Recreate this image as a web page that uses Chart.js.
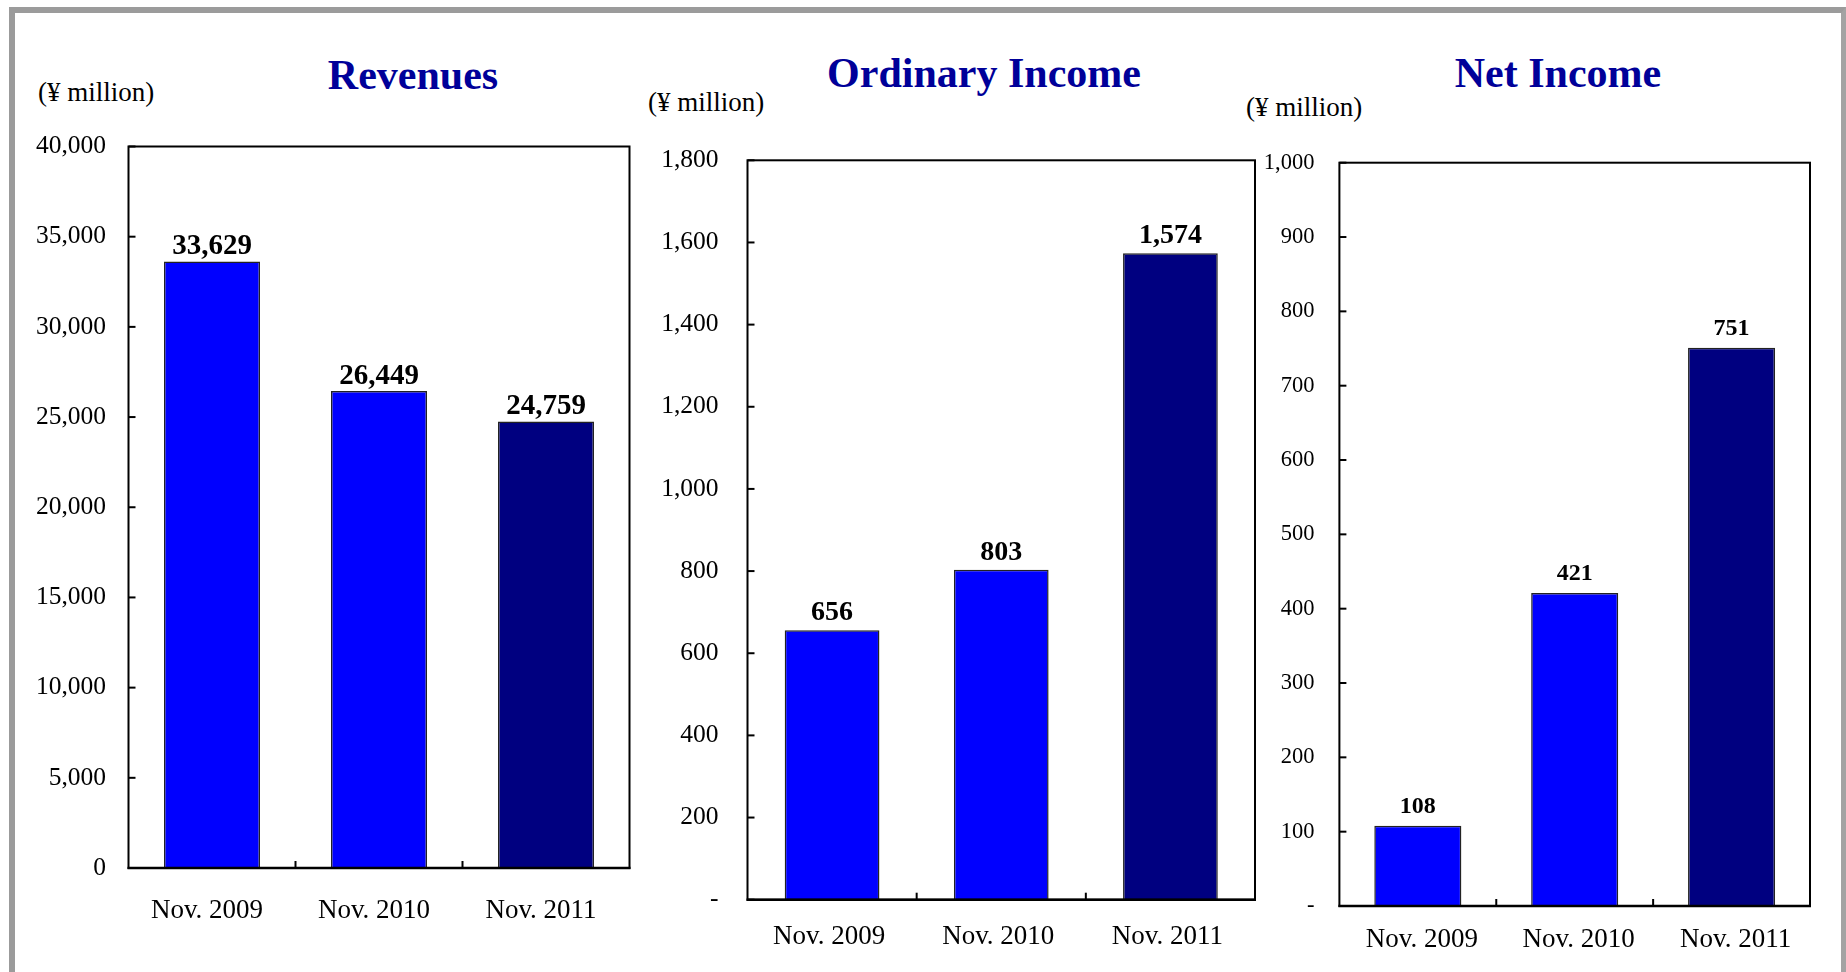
<!DOCTYPE html>
<html>
<head>
<meta charset="utf-8">
<script src="https://cdn.jsdelivr.net/npm/chart.js@4/dist/chart.umd.min.js"></script>
<style>
  html, body { margin: 0; padding: 0; background: #fff; width: 1846px; height: 972px; overflow: hidden; }
  #frame { position: absolute; left: 9px; top: 7px; width: 1826px; height: 1000px;
           border-left: 6px solid #9b9b9b; border-top: 6px solid #9b9b9b; border-right: 5px solid #a3a3a3; }
  canvas { position: absolute; }
  .title { position: absolute; font-family: "Liberation Serif", serif; font-weight: bold; font-size: 42px;
           line-height: 42px; color: #000099; white-space: nowrap; transform: translateX(-50%); }
  .unit { position: absolute; font-family: "Liberation Serif", serif; font-size: 27px; line-height: 27px;
          color: #000; white-space: nowrap; }
</style>
</head>
<body>
<div id="frame"></div>

<div class="title" style="left:413px; top:54px;">Revenues</div>
<div class="title" style="left:984px; top:52px;">Ordinary Income</div>
<div class="title" style="left:1558px; top:52px;">Net Income</div>

<div class="unit" style="left:38px; top:79px;">(¥ million)</div>
<div class="unit" style="left:648px; top:89px;">(¥ million)</div>
<div class="unit" style="left:1246px; top:94px;">(¥ million)</div>

<canvas id="rev" width="625" height="860" style="left:20px; top:100px;"></canvas>
<canvas id="ord" width="630" height="860" style="left:640px; top:100px;"></canvas>
<canvas id="net" width="600" height="860" style="left:1230px; top:100px;"></canvas>

<script>
// ---- data ----
const categories = ['Nov. 2009', 'Nov. 2010', 'Nov. 2011'];
const revenues = [33629, 26449, 24759];
const ordinaryIncome = [656, 803, 1574];
const netIncome = [108, 421, 751];
const barColors = ['#0000FF', '#0000FF', '#000080'];

const revTickLabels = ['0', '5,000', '10,000', '15,000', '20,000', '25,000', '30,000', '35,000', '40,000'];
const ordTickLabels = ['-', '200', '400', '600', '800', '1,000', '1,200', '1,400', '1,600', '1,800'];
const netTickLabels = ['-', '100', '200', '300', '400', '500', '600', '700', '800', '900', '1,000'];

// ---- plugin: plot box, inward ticks, value labels ----
const boxPlugin = {
  id: 'box',
  afterDatasetsDraw(chart, args, opts) {
    const { ctx, chartArea: a } = chart;
    const x = chart.scales.x, y = chart.scales.y;
    ctx.save();
    ctx.strokeStyle = '#000';
    ctx.lineWidth = 2;
    ctx.strokeRect(a.left, a.top, a.right - a.left, a.bottom - a.top);
    ctx.lineWidth = 2.5;
    ctx.beginPath(); ctx.moveTo(a.left - 1, a.bottom); ctx.lineTo(a.right + 1, a.bottom); ctx.stroke();
    ctx.lineWidth = 2;
    y.ticks.forEach((t, i) => {
      const py = y.getPixelForTick(i);
      ctx.beginPath(); ctx.moveTo(a.left, py); ctx.lineTo(a.left + 7, py); ctx.stroke();
    });
    for (let i = 1; i < x.ticks.length; i++) {
      const px = (x.getPixelForTick(i - 1) + x.getPixelForTick(i)) / 2;
      ctx.beginPath(); ctx.moveTo(px, a.bottom); ctx.lineTo(px, a.bottom - 7); ctx.stroke();
    }
    const meta = chart.getDatasetMeta(0);
    const values = chart.data.datasets[0].data;
    ctx.font = 'bold ' + opts.size + 'px "Liberation Serif"';
    ctx.textAlign = 'center';
    ctx.textBaseline = 'alphabetic';
    ctx.fillStyle = '#000';
    meta.data.forEach((bar, i) => {
      ctx.fillText(values[i].toLocaleString('en-US'), bar.x, bar.y - opts.gap);
    });
    ctx.restore();
  }
};

function makeChart(id, values, cfg) {
  const t = cfg.area;
  const chart = new Chart(document.getElementById(id), {
    type: 'bar',
    data: {
      labels: categories,
      datasets: [{
        data: values,
        backgroundColor: barColors,
        borderColor: '#222',
        borderWidth: 1.5,
        borderSkipped: 'bottom',
        categoryPercentage: cfg.catPct,
        barPercentage: 1
      }]
    },
    options: {
      responsive: false,
      animation: false,
      events: [],
      layout: { padding: { left: 0, right: 0, top: 0, bottom: 0 } },
      plugins: {
        legend: { display: false },
        tooltip: { enabled: false },
        title: { display: false },
        box: { size: cfg.labelSize, gap: cfg.gap }
      },
      scales: {
        x: {
          grid: { display: false, drawTicks: false },
          border: { display: false },
          ticks: { color: '#000', padding: cfg.xPad, maxRotation: 0, autoSkip: false,
                   labelOffset: cfg.labelOffset,
                   font: { family: 'Liberation Serif', size: 27 } },
          afterFit(s) { s.height = 70; }
        },
        y: {
          min: 0, max: cfg.max,
          grid: { display: false, drawTicks: false },
          border: { display: false },
          ticks: { stepSize: cfg.step, color: '#000', padding: cfg.yPad, autoSkip: false,
                   font: { family: 'Liberation Serif', size: cfg.tickSize },
                   callback: (v, i) => cfg.tickLabels[i] },
          afterFit(s) { s.width = t.left - 4; }
        }
      }
    },
    plugins: [boxPlugin]
  });
  // place the plot area where the reference has it (canvas-relative target box)
  let pad = { left: 0, right: 0, top: 0, bottom: 0 };
  for (let k = 0; k < 6; k++) {
    const ca = chart.chartArea;
    const dT = t.top - ca.top, dB = ca.bottom - t.bottom, dL = t.left - ca.left, dR = ca.right - t.right;
    if (Math.abs(dT) + Math.abs(dB) + Math.abs(dL) + Math.abs(dR) < 0.05) break;
    pad = { left: pad.left + dL, right: pad.right + dR, top: pad.top + dT, bottom: pad.bottom + dB };
    chart.config.options.layout.padding = pad;
    chart.update('none');
  }
  return chart;
}

// target plot areas, relative to each canvas
makeChart('rev', revenues, {
  max: 40000, step: 5000, tickLabels: revTickLabels, tickSize: 25.5, labelSize: 29, gap: 7,
  catPct: 0.575, xPad: 27, yPad: 22.5, labelOffset: -5,
  area: { left: 108.5, top: 46.5, right: 609.5, bottom: 768 }
});
makeChart('ord', ordinaryIncome, {
  max: 1800, step: 200, tickLabels: ordTickLabels, tickSize: 25.5, labelSize: 28, gap: 10,
  catPct: 0.56, xPad: 21.3, yPad: 29, labelOffset: -3,
  area: { left: 107.5, top: 60.3, right: 615, bottom: 799.7 }
});
makeChart('net', netIncome, {
  max: 1000, step: 100, tickLabels: netTickLabels, tickSize: 22.5, labelSize: 24, gap: 13,
  catPct: 0.555, xPad: 18, yPad: 25, labelOffset: 4,
  area: { left: 109.4, top: 62.7, right: 580, bottom: 806 }
});
</script>
</body>
</html>
